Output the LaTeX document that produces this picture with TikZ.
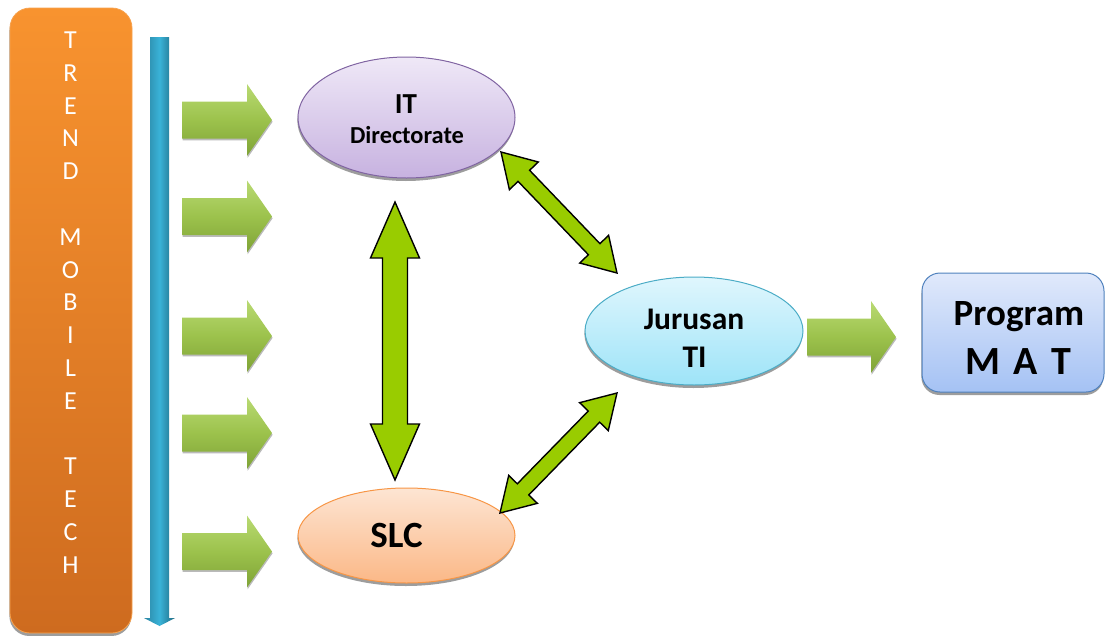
\documentclass[tikz,border=0pt]{standalone}
\usepackage{fontspec}
\setmainfont{Carlito}
\usetikzlibrary{calc,shadows,shapes.geometric}

\definecolor{orTop}{HTML}{F8932F}
\definecolor{orBot}{HTML}{CE6B1F}
\definecolor{orEdge}{HTML}{F7A24E}
\definecolor{barL}{HTML}{2A84A2}
\definecolor{barM}{HTML}{3AB3D8}
\definecolor{barR}{HTML}{1E6880}
\definecolor{grTop}{HTML}{B9DA73}
\definecolor{grMid}{HTML}{9CC24C}
\definecolor{grBot}{HTML}{7FA337}
\definecolor{lime}{HTML}{99CC00}
\definecolor{itTop}{HTML}{EFE8F7}
\definecolor{itBot}{HTML}{C7B2E0}
\definecolor{itEdge}{HTML}{8064A2}
\definecolor{jurTop}{HTML}{DFF6FD}
\definecolor{jurBot}{HTML}{9EE4F8}
\definecolor{jurEdge}{HTML}{4BACC6}
\definecolor{slcTop}{HTML}{FDE5D3}
\definecolor{slcBot}{HTML}{FBB887}
\definecolor{slcEdge}{HTML}{F79646}
\definecolor{prTop}{HTML}{E0E9FB}
\definecolor{prBot}{HTML}{A5C2F4}
\definecolor{prEdge}{HTML}{4F81BD}

\tikzset{
  softshadow/.style={drop shadow={shadow xshift=-0.6pt, shadow yshift=-3pt, fill=black!55, opacity=0.7}},
  orbox/.style={draw=orEdge, line width=0.8pt, rounded corners=20pt, top color=orTop, bottom color=orBot,
    minimum width=122pt, minimum height=625pt, inner sep=0pt, softshadow},
  trendtxt/.style={text=white, align=center, inner sep=0pt, font=\fontsize{26}{32.8}\selectfont},
  greenarrow/.style={top color=grTop, bottom color=grBot, middle color=grMid,
    drop shadow={shadow xshift=0.6pt, shadow yshift=-1.8pt, fill=black!60, opacity=0.45}},
  dblarrowstyle/.style={draw=black, line width=1.4pt, fill=lime, line join=miter},
  ell/.style={ellipse, line width=1pt, inner sep=0pt, softshadow},
  itell/.style={ell, draw=itEdge, top color=itTop, bottom color=itBot},
  jurell/.style={ell, draw=jurEdge, top color=jurTop, bottom color=jurBot},
  slcell/.style={ell, draw=slcEdge, top color=slcTop, bottom color=slcBot},
  progbox/.style={rectangle, rounded corners=18pt, line width=1pt, draw=prEdge, top color=prTop, bottom color=prBot,
    inner sep=0pt, softshadow},
  lbl/.style={inner sep=0pt, anchor=base, font=\bfseries}
}

% double-headed block arrow between two named coordinates
% #1 A, #2 B, #3 prefix, #4 shaft half width, #5 head half width, #6 head length
\newcommand\dblarrow[6]{%
  \coordinate (#3ha) at ($(#1)!#6!(#2)$);
  \coordinate (#3hb) at ($(#2)!#6!(#1)$);
  \draw[dblarrowstyle] (#1) -- ($(#3ha)!#5!90:(#2)$) -- ($(#3ha)!#4!90:(#2)$)
    -- ($(#3hb)!#4!-90:(#1)$) -- ($(#3hb)!#5!-90:(#1)$) -- (#2)
    -- ($(#3hb)!#5!90:(#1)$) -- ($(#3hb)!#4!90:(#1)$)
    -- ($(#3ha)!#4!-90:(#2)$) -- ($(#3ha)!#5!-90:(#2)$) -- cycle;}

% horizontal 3D block arrow from tail coordinate #1 to tip coordinate #2, head length #3
\newcommand\blockarrow[3]{%
  \path[greenarrow] ($(#1)+(0,-18.5)$) -- ($(#2)+(-#3,-18.5)$) -- ($(#2)+(-#3,-36)$) -- (#2)
    -- ($(#2)+(-#3,36)$) -- ($(#2)+(-#3,18.5)$) -- ($(#1)+(0,18.5)$) -- cycle;}

\begin{document}
\begin{tikzpicture}[x=1pt, y=-1pt]
\useasboundingbox (0,0) rectangle (1106,635);

% left orange panel
\node[orbox] (trend) at (71,320.5) {};
\node[trendtxt] (trendT) at (70.5,302.5) {T\\R\\E\\N\\D\\[32.8pt]M\\O\\B\\I\\L\\E\\[32.8pt]T\\E\\C\\H};

% blue bar with small arrow tip
\path[left color=barL, right color=barR, middle color=barM]
  (150,37) -- (169,37) -- (169,618) -- (175,618) -- (159.5,626) -- (144,618) -- (150,618) -- cycle;
\coordinate (barTop) at (159.5,37);

% green input arrows
\foreach \i/\y in {1/120,2/216.5,3/336,4/433,5/551.5}{
  \coordinate (t\i) at (182,\y);
  \coordinate (h\i) at (272,\y);
  \blockarrow{t\i}{h\i}{25}
}

% ellipses
\node[itell, minimum width=217pt, minimum height=121pt] (it) at (406.5,117.5) {};
\node[slcell, minimum width=217pt, minimum height=95pt] (slc) at (406.5,535.5) {};
\node[jurell, minimum width=218pt, minimum height=108pt] (jur) at (694,331) {};
\node[progbox, minimum width=182pt, minimum height=119pt] (prog) at (1013,332.5) {};

% texts
\node[lbl, font=\bfseries\fontsize{29}{30}\selectfont] (itA) at (406,113) {IT};
\node[lbl, font=\bfseries\fontsize{24.4}{26}\selectfont] (itB) at (407,143.5) {Directorate};
\node[lbl, font=\bfseries\fontsize{37}{40}\selectfont] (slcA) at (396.5,547) {SLC};
\node[lbl, font=\bfseries\fontsize{31.5}{34}\selectfont] (jurA) at (694,329) {Jurusan};
\node[lbl, font=\bfseries\fontsize{31.5}{34}\selectfont] (jurB) at (694.5,367) {TI};
\node[lbl, font=\bfseries\fontsize{37}{40}\selectfont] (prA) at (1019,325) {Program};
\node[lbl, font=\bfseries\fontsize{40}{42}\selectfont] (prB) at (1018.5,374) {M\,\,A\,\,T};

% output arrow Jurusan -> Program
\coordinate (jo) at (807,337);
\coordinate (pi) at (896,337);
\blockarrow{jo}{pi}{25}

% double arrows
\coordinate (itS) at (395,202);
\coordinate (slcN) at (395,480);
\dblarrow{itS}{slcN}{v}{12.5pt}{24.5pt}{56pt}
\coordinate (itSE) at (501,152);
\coordinate (jurNW) at (617,273);
\dblarrow{itSE}{jurNW}{d1}{8pt}{20pt}{33pt}
\coordinate (slcNE) at (500,513);
\coordinate (jurSW) at (617,393);
\dblarrow{slcNE}{jurSW}{d2}{8pt}{20pt}{33pt}
\end{tikzpicture}
\end{document}
